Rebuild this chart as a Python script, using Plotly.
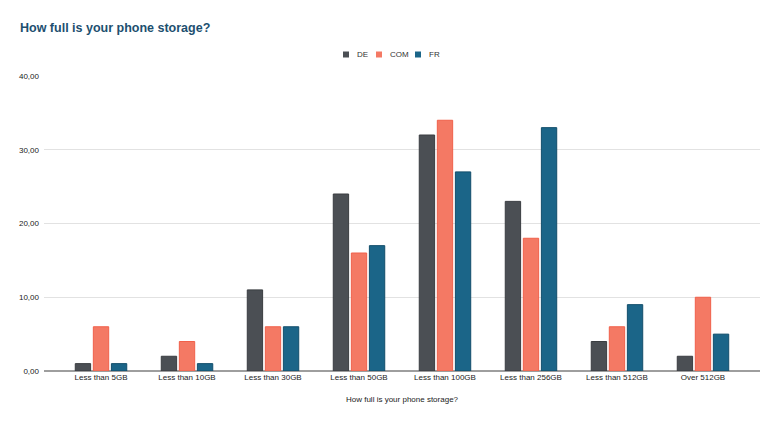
import plotly.graph_objects as go

categories = ["Less than 5GB", "Less than 10GB", "Less than 30GB", "Less than 50GB",
              "Less than 100GB", "Less than 256GB", "Less than 512GB", "Over 512GB"]
de = [1, 2, 11, 24, 32, 23, 4, 2]
com = [6, 4, 6, 16, 34, 18, 6, 10]
fr = [1, 1, 6, 17, 27, 33, 9, 5]
y_ticks = [0, 10, 20, 30, 40]

series = [("DE", de, "#4b4f54", "#3a3d41"),
          ("COM", com, "#f47964", "#f0604a"),
          ("FR", fr, "#1b6588", "#124e6b")]

W, H = 782, 425
OFF = 8  # page body margin offset compensation
L, R, T, B = 44 - OFF, 22 + OFF, 76 - OFF, 54 + OFF
PW, PH = W - L - R, H - T - B

def px(x):
    return (x - OFF - L) / PW

def py(y):
    return (H - B - (y - OFF)) / PH

fig = go.Figure()
for name, vals, col, line in series:
    fig.add_trace(go.Bar(x=categories, y=vals, name=name, showlegend=False,
                         marker=dict(color=col, line=dict(color=line, width=1))))

# custom compact legend
legend_x = [343, 376, 415]
shapes, annots = [], []
for (name, _, col, line), lx in zip(series, legend_x):
    shapes.append(dict(type="rect", xref="paper", yref="paper",
                       x0=px(lx), x1=px(lx + 6), y0=py(57.5), y1=py(51.5),
                       fillcolor=col, line=dict(width=0)))
    annots.append(dict(text=name, xref="paper", yref="paper", x=px(lx + 12), y=py(54.5),
                       xanchor="left", yanchor="middle", showarrow=False,
                       font=dict(size=8, color="#333")))

fig.update_layout(
    width=W, height=H,
    paper_bgcolor="white", plot_bgcolor="white",
    margin=dict(l=L, r=R, t=T, b=B, autoexpand=False),
    separators=",.",
    barmode="group", bargap=0.37, bargroupgap=0.15,
    showlegend=False,
    shapes=shapes, annotations=annots,
    font=dict(family="Liberation Sans, Arial, sans-serif", size=8, color="#222"),
    title=dict(text="<b>How full is your phone storage?</b>", xref="container", x=0,
               xanchor="left", pad=dict(l=20 - OFF),
               yref="container", y=1 - (28 - OFF) / H, yanchor="middle",
               font=dict(size=12.5, color="#1d4f6f", family="Liberation Sans, Arial, sans-serif")),
    xaxis=dict(range=[-0.663, 7.663], showgrid=False, ticks="", tickfont=dict(size=8),
               automargin=False,
               title=dict(text="How full is your phone storage?", font=dict(size=8), standoff=15),
               showline=False),
    yaxis=dict(range=[0, 40], tickvals=y_ticks, tickformat=".2f", showgrid=True,
               automargin=False,
               gridcolor="#e2e2e2", gridwidth=1, zeroline=True, zerolinecolor="#9e9e9e",
               zerolinewidth=2, tickfont=dict(size=8), ticks="", ticklabelstandoff=4),
)

fig.write_html("out.html")
